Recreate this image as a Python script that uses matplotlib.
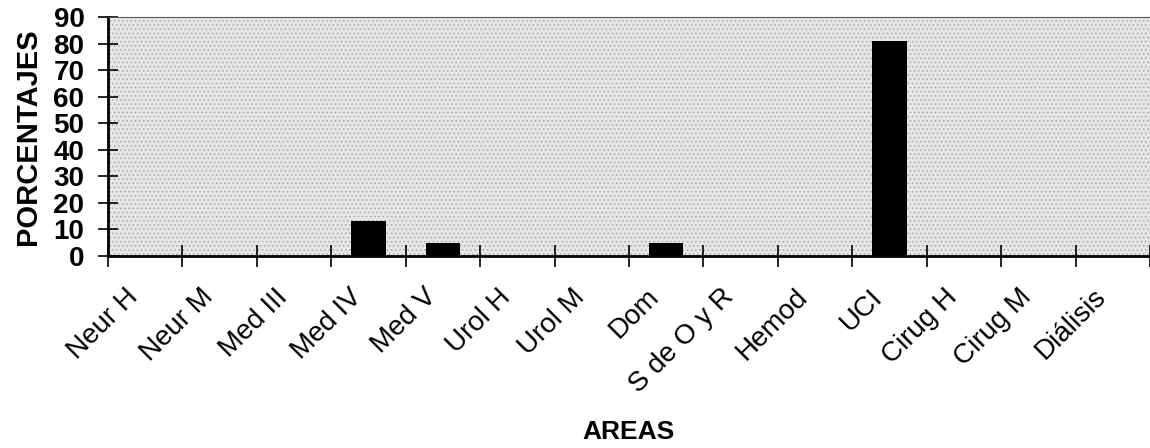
#!/usr/bin/python
"""
    Bar chart of percentages per hospital area (recreated from a scan)
"""

import matplotlib
matplotlib.use('Agg')
import matplotlib.pyplot as plt
import matplotlib.transforms as mtransforms
from matplotlib.patches import Rectangle
import numpy as np

# data
areas = ['Neur H', 'Neur M', 'Med III', 'Med IV', 'Med V', 'Urol H',
         'Urol M', 'Dom', 'S de O y R', 'Hemod', 'UCI', 'Cirug H',
         'Cirug M', 'Diálisis']
porcentajes = [0, 0, 0, 13, 5, 0, 0, 5, 0, 0, 81, 0, 0, 0]
yticks = [0, 10, 20, 30, 40, 50, 60, 70, 80, 90]

plt.rcParams['font.family'] = ['Liberation Sans', 'DejaVu Sans']
plt.rcParams['hatch.linewidth'] = 0.6

fig = plt.figure(figsize=(11.5, 4.48), dpi=100)
ax = fig.add_axes([108 / 1150, 1 - 256 / 448, 1 - 108 / 1150, (256 - 17) / 448])
ax.set_facecolor('#e6e6e6')
# stippled background like the scanned halftone
ax.add_patch(Rectangle((0, 0), 1, 1, transform=ax.transAxes, fill=False,
                       hatch='....', edgecolor='#a8a8a8', linewidth=0,
                       zorder=0))

pos = np.arange(len(areas)) + 0.5
ax.bar(pos, porcentajes, width=0.46, color='black', zorder=3)

ax.set_xlim(0, len(areas))
ax.set_ylim(0, 90)

# boundaries as major ticks, labels on minor ticks
ax.set_xticks(np.arange(len(areas) + 1))
ax.set_xticklabels([])
ax.set_xticks(pos, minor=True)
ax.set_xticklabels(areas, minor=True, rotation=45, ha='right',
                   rotation_mode='anchor', fontsize=20)
ax.tick_params(axis='x', which='major', direction='inout', length=16,
               width=1.2)
ax.tick_params(axis='x', which='minor', length=0, pad=20)
offset = mtransforms.ScaledTranslation(-20 / 100, 0, fig.dpi_scale_trans)
for lbl in ax.xaxis.get_minorticklabels():
    lbl.set_transform(lbl.get_transform() + offset)

ax.set_yticks(yticks)
ax.set_yticklabels([str(v) for v in yticks], fontsize=20, fontweight='bold')
ax.tick_params(axis='y', direction='inout', length=14, width=1.2, pad=10)

ax.spines['right'].set_visible(False)
ax.spines['top'].set_linestyle((0, (1, 1)))
ax.spines['top'].set_color('#555555')
ax.spines['left'].set_linewidth(2)
ax.spines['bottom'].set_linewidth(2)

ax.set_ylabel('PORCENTAJES', fontsize=21, fontweight='bold', labelpad=8)
fig.text(628 / 1150, 1 - 432 / 448, 'AREAS', fontsize=19,
         fontweight='bold', ha='center', va='center')

plt.savefig('out.png', dpi=100)
